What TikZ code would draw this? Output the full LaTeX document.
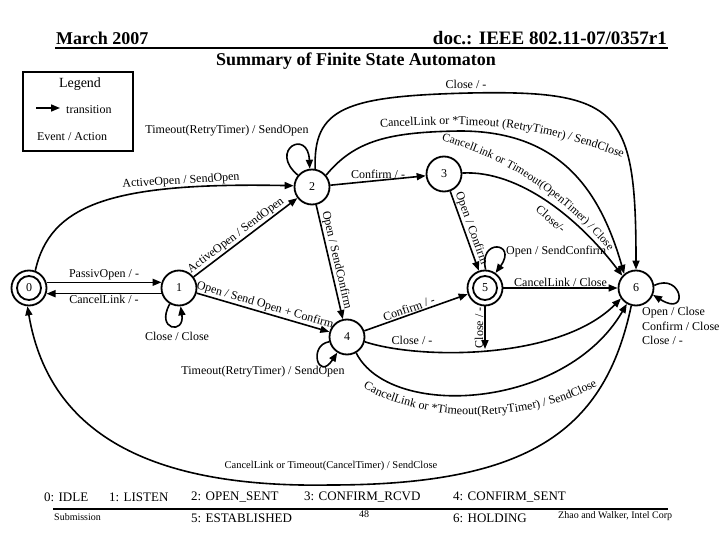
\documentclass[tikz,border=0pt]{standalone}
\usepackage{fontspec}
\setmainfont{Liberation Serif}
\usetikzlibrary{arrows.meta,decorations.text}
\begin{document}
\begin{tikzpicture}[x=1pt,y=-1pt,
  every node/.style={font=\fontsize{12}{14}\selectfont, inner sep=1pt},
  hdr/.style={font=\bfseries\fontsize{18}{20}\selectfont},
  state/.style={circle, draw, line width=1.8pt, minimum size=35pt, inner sep=0pt},
  arr/.style={line width=1.6pt, -{Triangle[length=9pt,width=7pt]}},
  ring/.style={line width=1.8pt},
  small/.style={font=\fontsize{10}{12}\selectfont},
  bot/.style={font=\fontsize{13}{15}\selectfont, anchor=west},
  txtpath/.style={decorate, decoration={text along path, text align=center, text={#1}}}
]
\useasboundingbox (0,0) rectangle (720,540);
\fill[white] (0,0) rectangle (720,540);

% header
\node[hdr, anchor=west] (hd1) at (55,38) {March 2007};
\node[hdr, anchor=east, font=\bfseries\fontsize{19}{21}\selectfont] (hd2) at (668,38) {doc.: IEEE 802.11-07/0357r1};
\draw[line width=2pt] (55,48) -- (668,48);
\node[hdr] (title) at (356,61) {Summary of Finite State Automaton};

% legend
\draw[line width=2.5pt] (23,72) rectangle (133,151);
\node[font=\fontsize{14}{16}\selectfont] (lg) at (80,84) {Legend};
\coordinate (la) at (36,108);
\coordinate (lb) at (60,108);
\draw[arr] (la) -- (lb);
\node[anchor=west] (lt) at (65,110) {transition};
\node (le) at (72,137) {Event / Action};

% states
\node[state] (n0) at (29,288) {0};
\draw[ring] (n0.center) circle[radius=12];
\node[state] (n1) at (179,288) {1};
\node[state] (n2) at (312,187) {2};
\node[state] (n3) at (444,174) {3};
\node[state] (n4) at (347,337) {4};
\node[state] (n5) at (485,288) {5};
\draw[ring] (n5.center) circle[radius=12];
\node[state] (n6) at (636,288) {6};

% 0 <-> 1
\draw[arr] (n0.18) -- (n1.162) node[midway, above] (l01) {PassivOpen / -};
\draw[arr] (n1.198) -- (n0.-18) node[midway, below] (l10) {CancelLink / -};
% 1 self loop
\draw[arr] (n1.240) .. controls (155,330) and (185,335) .. (n1.275);
\node (l11) at (177,336) {Close / Close};

% 0 -> 2
\draw[arr] (n0.70) .. controls (50,205) and (110,182) .. (n2.176);
\node[rotate=3.5] (l02) at (181,181) {ActiveOpen / SendOpen};
% 1 -> 2
\draw[arr] (n1) -- (n2) node[pos=0.45, above, sloped] (l12) {ActiveOpen / SendOpen};
% 2 self loop
\draw[arr] (n2.140) .. controls (268,150) and (308,128) .. (n2.97);
\node (l22) at (227,131) {Timeout(RetryTimer) / SendOpen};
% 2 -> 3
\draw[arr] (n2) -- (n3) node[midway, above] (l23) {Confirm / -};
% 1 -> 4
\draw[arr] (n1) -- (n4) node[midway, above, sloped] (l14) {Open / Send Open + Confirm};
% 2 -> 4
\draw[arr] (n2) -- (n4) node[midway, above, sloped] (l24) {Open / SendConfirm};
% 3 -> 5
\draw[arr] (n3) -- (n5) node[midway, above, sloped] (l35) {Open / Confirm};
% 4 -> 5
\draw[arr] (n4) -- (n5) node[pos=0.45, above, sloped] (l45) {Confirm / -};
% 4 self loop
\draw[arr] (n4.195) .. controls (308,345) and (318,382) .. (n4.238);
\node (l44) at (263,372) {Timeout(RetryTimer) / SendOpen};
% 5 self loop
\draw[arr] (n5.88) .. controls (478,238) and (518,242) .. (n5.55);
\node[anchor=west] (l55) at (505,252) {Open / SendConfirm};
% 5 -> 6
\draw[arr] (n5) -- (n6) node[midway, above] (l56) {CancelLink / Close};
% 4 -> 6 (Close)
\draw[arr] (n4.-15) .. controls (420,360) and (560,360) .. (n6.215);
\node (l46a) at (412,340) {Close / -};
% 5 -> curve (Close)
\coordinate (c5) at (485,349);
\draw[arr] (n5) -- (c5) node[midway, rotate=90, above] (l5c) {Close / -};
% 4 -> 6 (CancelLink lower)
\draw[arr] (n4.-60) .. controls (390,420) and (565,410) .. (n6.240);
\path[txtpath={|\fontsize{12}{14}\selectfont|CancelLink or *Timeout(RetryTimer) / SendClose}]
  (348,377) .. controls (406,425) and (535,430) .. (613,376);
% 2 -> 6 (Close, top)
\draw[arr] (n2.80) .. controls (313,108) and (345,96) .. (470,93) .. controls (620,90) and (636,110) .. (n6.90);
\node (l26a) at (466,84) {Close / -};
% 2 -> 6 (CancelLink)
\draw[arr] (n2.40) .. controls (355,140) and (390,132) .. (460,131) .. controls (560,131) and (600,190) .. (n6.130);
\path[txtpath={|\fontsize{12}{14}\selectfont|CancelLink or *Timeout (RetryTimer) / SendClose}]
  (372,128) .. controls (430,124) and (470,124) .. (500,127) .. controls (540,131) and (592,145) .. (630,161);
% 3 -> 6
\draw[arr] (n3.3) .. controls (520,170) and (580,220) .. (n6.138);
\path[txtpath={|\fontsize{11.5}{14}\selectfont|CancelLink or Timeout(OpenTimer) / Close}]
  (428,137) .. controls (497,153) and (563,192) .. (618,262);
\node[rotate=-41] (l36b) at (551,219) {Close/-};
% 6 self loop
\draw[arr] (n6.8) .. controls (682,272) and (690,318) .. (n6.-22);
\node[anchor=west, align=left, font=\fontsize{12}{14.5}\selectfont] (l66) at (641,326) {Open / Close\\Confirm / Close\\Close / -};
% 6 -> 0
\draw[arr] (n6.255) .. controls (605,430) and (530,485) .. (330,485) .. controls (160,488) and (50,440) .. (n0.265);
\node[font=\fontsize{10.5}{12}\selectfont] (l60) at (331,466) {CancelLink or Timeout(CancelTimer) / SendClose};

% bottom legend
\node[bot] (s0) at (43,497) {0: IDLE};
\node[bot] (s1) at (108,497) {1: LISTEN};
\node[bot] (s2) at (190,497) {2: OPEN\_SENT};
\node[bot] (s3) at (303,497) {3: CONFIRM\_RCVD};
\node[bot] (s4) at (452,497) {4: CONFIRM\_SENT};
\draw[line width=2pt] (53,509) -- (668,509);
\node[small, anchor=west] (sub) at (53,517) {Submission};
\node[bot] (s5) at (190,518) {5: ESTABLISHED};
\node[small] (pg) at (364,514) {48};
\node[bot] (s6) at (452,518) {6: HOLDING};
\node[small, anchor=west] (auth) at (557,516) {Zhao and Walker, Intel Corp};
\end{tikzpicture}
\end{document}
